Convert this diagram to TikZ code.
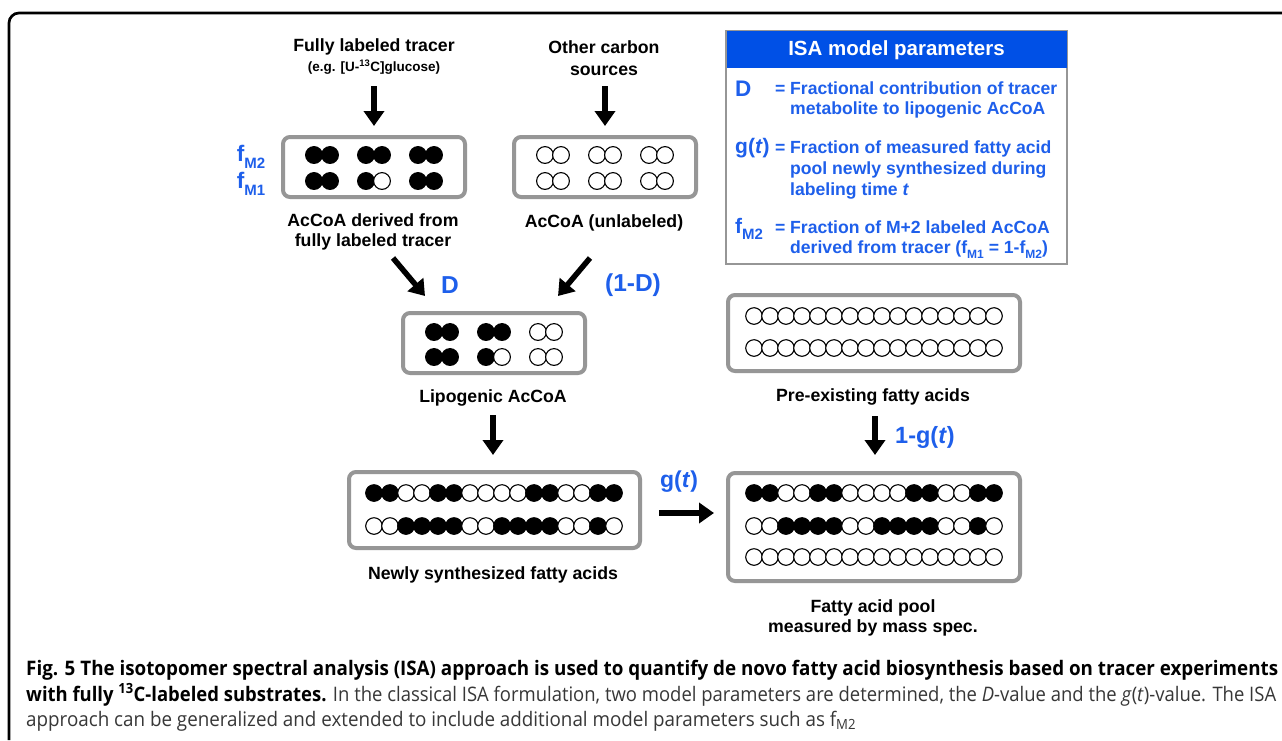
\documentclass[tikz,border=0pt]{standalone}
\usepackage{fontspec}
\setmainfont{Liberation Sans}
\newfontfamily\capfont{Open Sans}
\usetikzlibrary{arrows.meta,calc}
\definecolor{isablue}{RGB}{30,95,235}
\definecolor{hdrblue}{RGB}{0,80,230}
\definecolor{boxgray}{RGB}{150,150,150}
\definecolor{capgray}{RGB}{55,55,55}
\colorlet{F}{black}
\colorlet{O}{white}
\newsavebox\capboxA
\newsavebox\capboxB
\newsavebox\capboxC
\newdimen\capwA
\newdimen\capwB
\newcommand\ballrow[3]{%
  \foreach \c [count=\i from 0] in {#3} {\draw[ball, fill=\c] ({#1+16*\i},#2) circle (8.3pt);}}
\newcommand\pairrow[3]{%
  \foreach \c [count=\i from 0] in {#3} {%
    \pgfmathsetmacro\bx{#1+52*int(\i/2)+16*mod(\i,2)-8}%
    \draw[ball, fill=\c] (\bx,#2) circle (8.4pt);}}
\newcommand\fsub[1]{f\raisebox{-0.32em}{\fontsize{15}{15}\selectfont #1}}
\begin{document}
\sbox\capboxA{\capfont\fontsize{20}{24}\selectfont\bfseries Fig. 5 The isotopomer spectral analysis (ISA) approach is used to quantify de novo fatty acid biosynthesis based on tracer experiments}%
\sbox\capboxB{\capfont\fontsize{20}{24}\selectfont{\bfseries with fully \textsuperscript{13}C-labeled substrates.} \color{capgray}In the classical ISA formulation, two model parameters are determined, the \textit{D}-value and the \textit{g}(\textit{t})-value. The ISA}%
\sbox\capboxC{\capfont\fontsize{20}{24}\selectfont\color{capgray}approach can be generalized and extended to include additional model parameters such as f\textsubscript{M2}}%
\global\capwA=\wd\capboxA
\global\capwB=\wd\capboxB
\pgfmathsetmacro\crA{1252/\capwA}%
\pgfmathsetmacro\crB{1250/\capwB}%
\begin{tikzpicture}[x=1pt,y=-1pt,
  gbox/.style={draw=boxgray, line width=4pt, rounded corners=7pt, fill=white, inner sep=0pt},
  ball/.style={draw=black, line width=1.1pt},
  bigarrow/.style={line width=5.5pt, -{Triangle[length=15pt,width=20pt]}},
  lbl/.style={font=\fontsize{17.7}{20}\selectfont\bfseries, inner sep=0pt, align=center},
  sublbl/.style={font=\fontsize{13.5}{15}\selectfont\bfseries, inner sep=0pt},
  bluelbl/.style={font=\fontsize{24.5}{26}\selectfont\bfseries, text=isablue, inner sep=0pt},
  isatxt/.style={font=\fontsize{17.6}{20}\selectfont\bfseries, text=isablue, inner sep=0pt, anchor=base west},
  isasym/.style={font=\fontsize{21}{22}\selectfont\bfseries, text=isablue, inner sep=0pt, anchor=base west},
  capline/.style={inner sep=0pt, anchor=base west},
  frame/.style={line width=2.7pt, rounded corners=10pt}
  ]
\useasboundingbox (0,0) rectangle (1282,740);
\fill[white] (0,0) rectangle (1282,740);
% outer frame
\draw[frame] (9,740) -- (9,13) -- (1282,13);

% ---------- top sources ----------
\node[lbl] (t1) at (374,47) {Fully labeled tracer};
\node[sublbl] (t1b) at (374,67) {(e.g. [U-\textsuperscript{13}C]glucose)};
\node[lbl, font=\fontsize{17.7}{22}\selectfont\bfseries] (t2) at (604,58) {Other carbon\\sources};

% ---------- AcCoA boxes ----------
\node[gbox, minimum width=182pt, minimum height=60pt] (b1) at (374,167) {};
\node[gbox, minimum width=182pt, minimum height=60pt] (b2) at (605,167) {};
\pairrow{322}{155}{F,F,F,F,F,F}
\pairrow{322}{181}{F,F,F,O,F,F}
\pairrow{553}{155}{O,O,O,O,O,O}
\pairrow{553}{181}{O,O,O,O,O,O}

\node[bluelbl, font=\fontsize{22.5}{24}\selectfont\bfseries] (fm2) at (251,157) {\fsub{M2}};
\node[bluelbl, font=\fontsize{22.5}{24}\selectfont\bfseries] (fm1) at (251,184) {\fsub{M1}};

\node[lbl, font=\fontsize{17.7}{19.5}\selectfont\bfseries] (l1) at (373,232) {AcCoA derived from\\fully labeled tracer};
\node[lbl] (l2) at (604,223) {AcCoA (unlabeled)};

\draw[bigarrow] ($(b1.north)+(0,-49)$) -- ($(b1.north)+(0,-9)$);
\draw[bigarrow] ($(b2.north)+(0,-49)$) -- ($(b2.north)+(0,-9)$);

% ---------- lipogenic AcCoA ----------
\node[gbox, minimum width=182pt, minimum height=60pt] (b3) at (494,343) {};
\pairrow{442}{332}{F,F,F,F,O,O}
\pairrow{442}{357}{F,F,F,O,O,O}
\node[lbl] (l3) at (493,398) {Lipogenic AcCoA};

\draw[bigarrow] ($(b3.north)+(-101,-53)$) -- ($(b3.north)+(-69,-15)$);
\draw[bigarrow] ($(b3.north)+(96,-53)$) -- ($(b3.north)+(64,-15)$);
\node[bluelbl] (dlab) at (450,285) {D};
\node[bluelbl] (omd) at (633,285) {(1-D)};

% ---------- newly synthesized ----------
\node[gbox, minimum width=291pt, minimum height=76pt] (b4) at (494.5,510) {};
\ballrow{374}{493}{F,F,O,O,F,F,O,O,O,O,F,F,O,O,F,F}
\ballrow{374}{526}{O,O,F,F,F,F,O,O,F,F,F,F,O,O,F,O}
\node[lbl] (l4) at (493,575) {Newly synthesized fatty acids};
\draw[bigarrow] ($(b4.north)+(-1.5,-55)$) -- ($(b4.north)+(-1.5,-15)$);

% ---------- pre-existing ----------
\node[gbox, minimum width=292pt, minimum height=76pt] (b5) at (874,333) {};
\ballrow{754}{316}{O,O,O,O,O,O,O,O,O,O,O,O,O,O,O,O}
\ballrow{754}{348}{O,O,O,O,O,O,O,O,O,O,O,O,O,O,O,O}
\node[lbl] (l5) at (873,397) {Pre-existing fatty acids};

% ---------- pool ----------
\node[gbox, minimum width=292pt, minimum height=108pt] (b6) at (874,527) {};
\ballrow{754}{493}{F,F,O,O,F,F,O,O,O,O,F,F,O,O,F,F}
\ballrow{754}{526}{O,O,F,F,F,F,O,O,F,F,F,F,O,O,F,O}
\ballrow{754}{557}{O,O,O,O,O,O,O,O,O,O,O,O,O,O,O,O}
\node[lbl] (l6) at (873,618) {Fatty acid pool\\measured by mass spec.};

\draw[bigarrow] ($(b4.east)+(17,3)$) -- ($(b4.east)+(72,3)$);
\node[bluelbl, font=\fontsize{23}{25}\selectfont\bfseries] (glab) at (679,482) {g(\textit{t})};
\draw[bigarrow] ($(b6.north)+(1,-55)$) -- ($(b6.north)+(1,-16)$);
\node[bluelbl, font=\fontsize{23.5}{25}\selectfont\bfseries] (omg) at (925,437) {1-g(\textit{t})};

% ---------- ISA parameter box ----------
\node[draw=boxgray, line width=1.5pt, minimum width=341pt, minimum height=233pt, inner sep=0pt, fill=white] (isa) at (896.5,147.5) {};
\node[fill=hdrblue, minimum width=340pt, minimum height=37pt, inner sep=0pt, anchor=north, text=white,
      font=\fontsize{20.5}{22}\selectfont\bfseries] (isahdr) at ($(isa.north)+(0,0.75)$) {ISA model parameters};

\node[isasym, font=\fontsize{22.5}{24}\selectfont\bfseries] (symd) at (735,96) {D};
\node[isatxt] (eqd) at (775,94) {=};
\node[isatxt] (d1) at (790,94) {Fractional contribution of tracer};
\node[isatxt] (d2) at (790,114) {metabolite to lipogenic AcCoA};

\node[isasym] (symg) at (735,153) {g(\textit{t})};
\node[isatxt] (eqg) at (775,153) {=};
\node[isatxt] (g1) at (790,153) {Fraction of measured fatty acid};
\node[isatxt] (g2) at (790,174) {pool newly synthesized during};
\node[isatxt] (g3) at (790,195) {labeling time \textit{t}};

\node[isasym] (symf) at (735,233) {\fsub{M2}};
\node[isatxt] (eqf) at (775,233) {=};
\node[isatxt] (f1) at (790,233) {Fraction of M+2 labeled AcCoA};
\node[isatxt] (f2) at (790,253) {derived from tracer (f\raisebox{-0.3em}{\fontsize{12}{12}\selectfont M1} = 1-f\raisebox{-0.3em}{\fontsize{12}{12}\selectfont M2})};

% ---------- caption ----------
\node[capline] (cap1) at (26,675) {\scalebox{\crA}[1]{\usebox\capboxA}};
\node[capline] (cap2) at (26,701) {\scalebox{\crB}[1]{\usebox\capboxB}};
\node[capline] (cap3) at (26,726) {\scalebox{\crA}[1]{\usebox\capboxC}};
\end{tikzpicture}
\end{document}
